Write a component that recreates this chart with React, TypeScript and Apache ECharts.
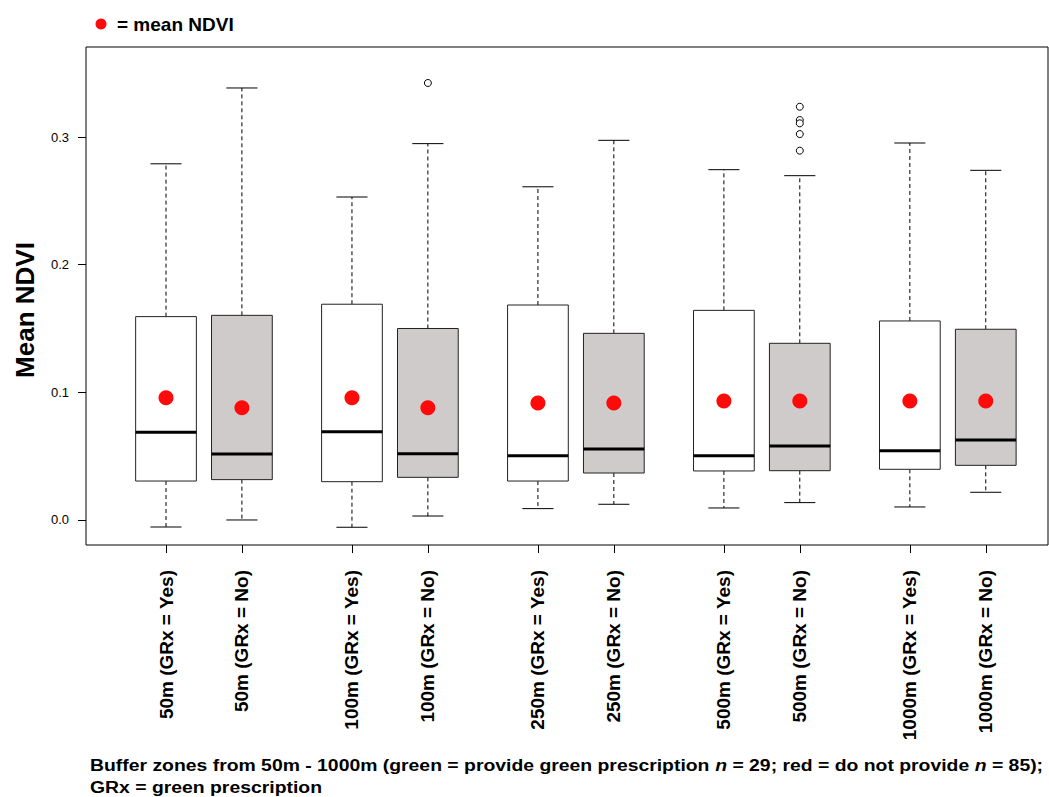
import React, { useEffect, useRef } from "react";
import * as echarts from "echarts";

const categories = [
  "50m (GRx = Yes)", "50m (GRx = No)",
  "100m (GRx = Yes)", "100m (GRx = No)",
  "250m (GRx = Yes)", "250m (GRx = No)",
  "500m (GRx = Yes)", "500m (GRx = No)",
  "1000m (GRx = Yes)", "1000m (GRx = No)",
];
const positions = [1, 2, 3.45, 4.45, 5.9, 6.9, 8.35, 9.35, 10.8, 11.8];
const provides = [true, false, true, false, true, false, true, false, true, false];
const lowerWhisker = [-0.0055, 0.0, -0.0057, 0.0031, 0.0089, 0.0123, 0.0094, 0.0136, 0.0102, 0.0217];
const q1Values = [0.0305, 0.0316, 0.030, 0.0334, 0.0305, 0.0368, 0.0384, 0.0386, 0.0397, 0.0428];
const medianValues = [0.0687, 0.0517, 0.0692, 0.0519, 0.0504, 0.0556, 0.0504, 0.058, 0.0543, 0.0627];
const q3Values = [0.1593, 0.1603, 0.169, 0.150, 0.1684, 0.1462, 0.1642, 0.1384, 0.1559, 0.1494];
const upperWhisker = [0.279, 0.3384, 0.253, 0.2948, 0.261, 0.2974, 0.2744, 0.2697, 0.2953, 0.2739];
const meanValues = [0.0958, 0.088, 0.0958, 0.088, 0.0916, 0.0916, 0.0932, 0.0932, 0.0932, 0.0932];
const outlierBox = [3, 7, 7, 7, 7, 7];
const outlierValues = [0.3423, 0.3237, 0.3133, 0.3107, 0.3023, 0.2893];
const yTicks = [0, 0.1, 0.2, 0.3];

const FONT = "Arial, Liberation Sans, sans-serif";
const W = 1049;
const H = 797;
const Y_MIN = -0.0196;
const Y_MAX = 0.3705;

function measure(text: string, font: string): number {
  const c = document.createElement("canvas");
  const ctx = c.getContext("2d");
  if (!ctx) return 0;
  ctx.font = font;
  return ctx.measureText(text).width;
}

export default function App() {
  const ref = useRef<HTMLDivElement>(null);
  useEffect(() => {
    document.body.style.margin = "0";
    if (!ref.current) return;
    const chart = echarts.init(ref.current, null, { renderer: "svg" });

    const boxData = positions.map((p, i) => [
      p, lowerWhisker[i], q1Values[i], medianValues[i], q3Values[i], upperWhisker[i], i,
    ]);
    const meanData = positions.map((p, i) => [p, meanValues[i]]);
    const outlierData = outlierBox.map((b, i) => [positions[b], outlierValues[i]]);

    const BOX_W = 0.8;
    const CAP_W = 0.41;

    const cap1a = "Buffer zones from 50m - 1000m (green = provide green prescription ";
    const cap1b = "n";
    const cap1c = " = 29; red = do not provide ";
    const cap1d = " = 85);";
    const capFont = `bold 17px ${FONT}`;
    const capItFont = `italic bold 17px ${FONT}`;
    const capWidth =
      measure(cap1a, capFont) + measure(cap1c, capFont) + measure(cap1d, capFont) +
      2 * measure(cap1b, capItFont);
    const capScale = capWidth > 0 ? 953 / capWidth : 1;

    const option: any = {
      animation: false,
      backgroundColor: "#ffffff",
      textStyle: { fontFamily: FONT },
      grid: {
        left: 86, top: 47, right: 1, bottom: H - 545,
        show: true, borderColor: "#000", borderWidth: 1, backgroundColor: "transparent",
      },
      xAxis: {
        type: "value",
        min: -0.054,
        max: 12.62,
        splitLine: { show: false },
        axisLine: { show: false, onZero: false },
        axisTick: {
          show: true, customValues: positions, length: 8, inside: false,
          lineStyle: { color: "#000", width: 1 },
        },
        axisLabel: { show: false },
      },
      yAxis: {
        type: "value",
        min: Y_MIN,
        max: Y_MAX,
        splitLine: { show: false },
        axisLine: { show: false, onZero: false },
        axisTick: {
          show: true, customValues: yTicks, length: 8, inside: false,
          lineStyle: { color: "#000", width: 1 },
        },
        axisLabel: {
          show: true,
          customValues: yTicks,
          margin: 17,
          fontSize: 13,
          fontFamily: FONT,
          color: "#000",
          formatter: (v: number) => v.toFixed(1),
        },
      },
      series: [
        {
          type: "custom",
          z: 2,
          clip: false,
          data: boxData,
          encode: { x: 0, y: [1, 2, 3, 4, 5] },
          renderItem: (params: any, api: any) => {
            const pos = api.value(0);
            const lo = api.value(1);
            const q1 = api.value(2);
            const med = api.value(3);
            const q3 = api.value(4);
            const hi = api.value(5);
            const idx = api.value(6);
            const halfBox = api.size([BOX_W, 0])[0] / 2;
            const halfCap = api.size([CAP_W, 0])[0] / 2;
            const cx = api.coord([pos, lo])[0];
            const yLo = api.coord([pos, lo])[1];
            const yQ1 = api.coord([pos, q1])[1];
            const yMed = api.coord([pos, med])[1];
            const yQ3 = api.coord([pos, q3])[1];
            const yHi = api.coord([pos, hi])[1];
            const yAxisBottom = api.coord([pos, Y_MIN])[1];
            const fill = provides[idx] ? "#ffffff" : "#cfcbcb";
            const dash = { stroke: "#000", lineWidth: 1, lineDash: [4, 3] };
            const solid = { stroke: "#000", lineWidth: 1 };
            return {
              type: "group",
              children: [
                { type: "line", shape: { x1: cx, y1: yQ3, x2: cx, y2: yHi }, style: dash },
                { type: "line", shape: { x1: cx, y1: yQ1, x2: cx, y2: yLo }, style: dash },
                { type: "line", shape: { x1: cx - halfCap, y1: yHi, x2: cx + halfCap, y2: yHi }, style: solid },
                { type: "line", shape: { x1: cx - halfCap, y1: yLo, x2: cx + halfCap, y2: yLo }, style: solid },
                {
                  type: "rect",
                  shape: { x: cx - halfBox, y: yQ3, width: 2 * halfBox, height: yQ1 - yQ3 },
                  style: { fill, stroke: "#222", lineWidth: 1 },
                },
                {
                  type: "line",
                  shape: { x1: cx - halfBox, y1: yMed, x2: cx + halfBox, y2: yMed },
                  style: { stroke: "#000", lineWidth: 3 },
                },
                {
                  type: "text",
                  x: cx,
                  y: yAxisBottom + 25,
                  rotation: Math.PI / 2,
                  style: {
                    text: categories[idx],
                    fill: "#000",
                    font: `bold 19px ${FONT}`,
                    fontSize: 19,
                    fontWeight: "bold",
                    fontFamily: FONT,
                    align: "right",
                    verticalAlign: "middle",
                  },
                },
              ],
            };
          },
        },
        {
          type: "scatter",
          z: 3,
          data: outlierData,
          symbol: "circle",
          symbolSize: 7,
          itemStyle: { color: "#ffffff", borderColor: "#000", borderWidth: 1, opacity: 1 },
        },
        {
          type: "scatter",
          z: 4,
          data: meanData,
          symbol: "circle",
          symbolSize: 15,
          itemStyle: { color: "#ff0a0a", opacity: 1 },
        },
      ],
      graphic: [
        { type: "circle", shape: { cx: 101, cy: 24, r: 5.5 }, style: { fill: "#ff0a0a" } },
        {
          type: "text", x: 117, y: 24,
          style: {
            text: "= mean NDVI", fill: "#000",
            font: `bold 19px ${FONT}`, textVerticalAlign: "middle", textAlign: "left",
          },
        },
        {
          type: "text", x: 25, y: 310, rotation: Math.PI / 2,
          style: {
            text: "Mean NDVI", fill: "#000",
            font: `bold 26px ${FONT}`, textAlign: "center", textVerticalAlign: "middle",
          },
        },
        {
          type: "text", x: 90, y: 765, scaleX: capScale,
          style: {
            text: `{b|${cap1a}}{i|${cap1b}}{b|${cap1c}}{i|${cap1b}}{b|${cap1d}}`,
            fill: "#000",
            font: capFont,
            textVerticalAlign: "middle",
            rich: {
              b: { font: capFont, fill: "#000" },
              i: { font: capItFont, fill: "#000" },
            },
          },
        },
        {
          type: "text", x: 90, y: 787, scaleX: capScale,
          style: {
            text: "GRx = green prescription", fill: "#000",
            font: capFont, textVerticalAlign: "middle",
          },
        },
      ],
    };
    chart.setOption(option);
    return () => chart.dispose();
  }, []);
  return <div ref={ref} style={{ width: W, height: H, position: "absolute", left: 0, top: 0 }} />;
}
